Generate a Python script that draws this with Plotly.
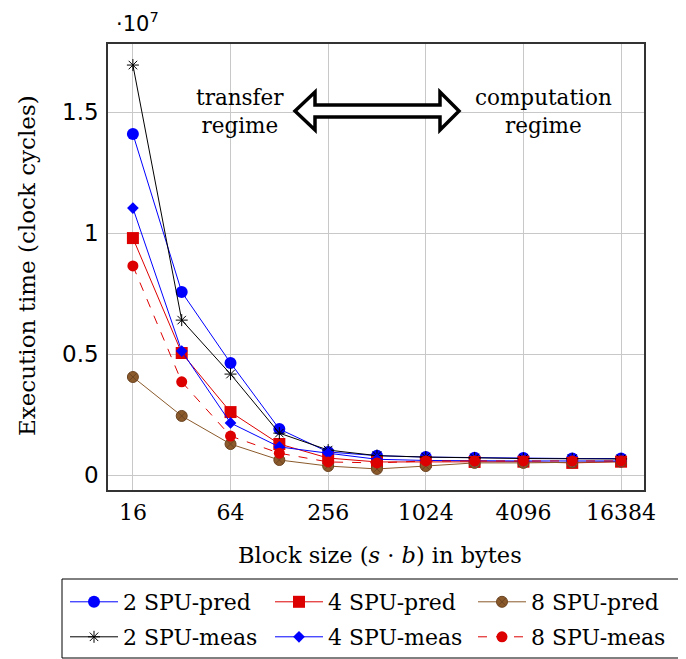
import plotly.graph_objects as go
import math

# ---- data ----
block_sizes = [16, 32, 64, 128, 256, 512, 1024, 2048, 4096, 8192, 16384]
spu2_pred = [1.409e7, 0.756e7, 0.463e7, 0.190e7, 0.095e7, 0.080e7, 0.074e7, 0.071e7, 0.070e7, 0.068e7, 0.068e7]
spu4_pred = [0.979e7, 0.504e7, 0.260e7, 0.128e7, 0.070e7, 0.054e7, 0.054e7, 0.054e7, 0.055e7, 0.050e7, 0.055e7]
spu8_pred = [0.405e7, 0.244e7, 0.128e7, 0.062e7, 0.037e7, 0.025e7, 0.037e7, 0.050e7, 0.050e7, 0.052e7, 0.055e7]
spu2_meas = [1.694e7, 0.640e7, 0.417e7, 0.173e7, 0.103e7, 0.080e7, 0.074e7, 0.070e7, 0.068e7, 0.067e7, 0.066e7]
spu4_meas = [1.103e7, 0.512e7, 0.215e7, 0.116e7, 0.090e7, 0.065e7, 0.060e7, 0.058e7, 0.058e7, 0.058e7, 0.058e7]
spu8_meas = [0.864e7, 0.385e7, 0.161e7, 0.090e7, 0.054e7, 0.050e7, 0.058e7, 0.058e7, 0.058e7, 0.058e7, 0.058e7]

x_tickvals = [16, 64, 256, 1024, 4096, 16384]
x_ticktext = ["16", "64", "256", "1024", "4096", "16384"]
y_tickvals = [0, 0.5e7, 1e7, 1.5e7]
y_ticktext = ["0", "0.5", "1", "1.5"]

SERIF = "DejaVu Serif"
SANS = "DejaVu Sans"

OFF = 8                      # page body margin
W, H = 686 - OFF, 659 - OFF  # figure size
L, R, T, B = 108, 644, 44, 490  # plot area box in page pixels


def px(x):
    return (x - L) / (R - L)


def py(y):
    return (B - y) / (B - T)


def cx(x):
    return (x - OFF) / W


def cy(y):
    return 1 - (y - OFF) / H


fig = go.Figure()

# name, values, color, symbol, size, dash, legend, legend left x, legend row y
series = [
    ("2 SPU-pred", spu2_pred, "#0000ff", "circle", 12, "solid", "legend", 65, 602),
    ("4 SPU-pred", spu4_pred, "#dd0000", "square", 12, "solid", "legend2", 270, 602),
    ("8 SPU-pred", spu8_pred, "#8b5a2b", "circle-x", 11, "solid", "legend3", 473, 602),
    ("2 SPU-meas", spu2_meas, "#000000", "asterisk-open", 10, "solid", "legend4", 65, 637),
    ("4 SPU-meas", spu4_meas, "#0000ff", "diamond", 9, "solid", "legend5", 270, 637),
    ("8 SPU-meas", spu8_meas, "#dd0000", "circle", 11, "dash", "legend6", 473, 637),
]

legends = {}
for name, vals, color, sym, size, dash, leg, lx, ly in series:
    marker = dict(symbol=sym, size=size, color=color)
    if sym == "circle-x":
        marker["line"] = dict(color="#6b4422", width=1)
    if sym == "asterisk-open":
        marker["line"] = dict(color=color, width=1)
    fig.add_trace(go.Scatter(
        x=block_sizes, y=vals, name=name, mode="lines+markers",
        line=dict(color=color, width=1, dash=dash),
        marker=marker, legend=leg,
    ))
    legends[leg] = dict(orientation="h", xref="container", yref="container",
                        x=cx(lx), y=cy(ly), xanchor="left", yanchor="middle",
                        font=dict(family=SERIF, size=22), bgcolor="rgba(0,0,0,0)",
                        itemwidth=48, borderwidth=0)

# hollow double arrow
pts = [(295, 111), (315, 92), (315, 105), (440, 105), (440, 92), (459, 111),
       (440, 130), (440, 117), (315, 117), (315, 130)]
path = "M " + " L ".join(f"{px(a):.5f},{py(b):.5f}" for a, b in pts) + " Z"
fig.add_shape(type="path", path=path, xref="paper", yref="paper",
              fillcolor="white", line=dict(color="black", width=3.5))

# legend frame
fig.add_shape(type="rect", xref="paper", yref="paper",
              x0=px(62), x1=px(684), y0=py(658), y1=py(579),
              line=dict(color="black", width=1), fillcolor="rgba(0,0,0,0)")

annots = [
    dict(text="transfer<br>regime", x=px(240), y=py(111)),
    dict(text="computation<br>regime", x=px(543), y=py(111)),
]
for a in annots:
    fig.add_annotation(text=a["text"], x=a["x"], y=a["y"], xref="paper", yref="paper",
                       showarrow=False, font=dict(family=SERIF, size=21.5, color="black"),
                       xanchor="center", yanchor="middle", align="center")

fig.add_annotation(text="·10<sup>7</sup>", x=px(114), y=py(22), xref="paper", yref="paper",
                   showarrow=False, xanchor="left", yanchor="middle",
                   font=dict(family=SANS, size=21, color="black"))

# axis titles
fig.add_annotation(text="Block size (<i>s</i> · <i>b</i>) in bytes", x=px(380), y=py(555),
                   xref="paper", yref="paper", showarrow=False,
                   xanchor="center", yanchor="middle",
                   font=dict(family=SERIF, size=22.5, color="black"))
fig.add_annotation(text="Execution time (clock cycles)", x=px(27), y=py(266),
                   xref="paper", yref="paper", showarrow=False, textangle=-90,
                   xanchor="center", yanchor="middle",
                   font=dict(family=SERIF, size=23, color="black"))

fig.update_layout(
    width=W, height=H,
    margin=dict(l=L - OFF, r=W - (R - OFF), t=T - OFF, b=H - (B - OFF), pad=0),
    paper_bgcolor="white", plot_bgcolor="white",
    font=dict(family=SERIF, size=21, color="black"),
    showlegend=True,
    xaxis=dict(
        type="log", automargin=False,
        range=[math.log10(2 ** 3.49), math.log10(2 ** 14.47)],
        tickvals=x_tickvals, ticktext=x_ticktext,
        showgrid=True, gridcolor="#c8c8c8", gridwidth=1,
        showline=True, linecolor="#333", linewidth=1.5, mirror=True,
        ticks="", zeroline=False, ticklabelstandoff=2,
        tickfont=dict(family=SERIF, size=22),
    ),
    yaxis=dict(
        automargin=False,
        range=[-0.062e7, 1.781e7],
        tickvals=y_tickvals, ticktext=y_ticktext,
        showgrid=True, gridcolor="#c8c8c8", gridwidth=1,
        showline=True, linecolor="#333", linewidth=1.5, mirror=True,
        ticks="", zeroline=False, ticklabelstandoff=3,
        tickfont=dict(family=SANS, size=23),
    ),
    **legends,
)

fig.write_html("out.html")
